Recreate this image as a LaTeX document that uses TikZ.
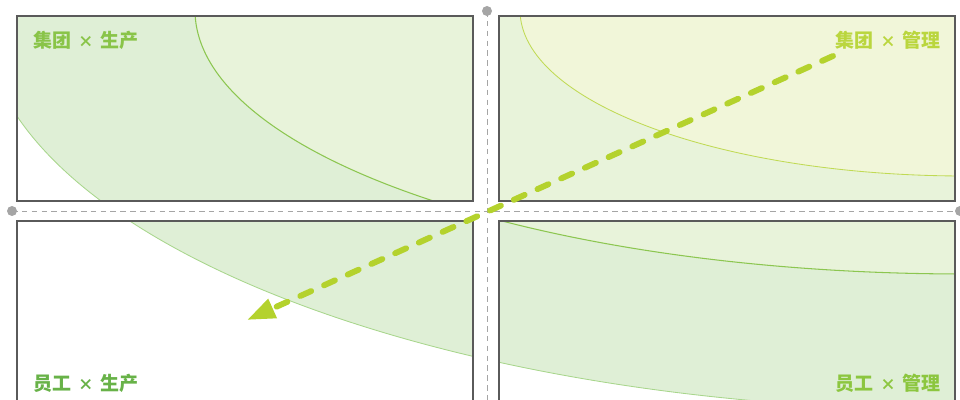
\documentclass[tikz,border=0pt]{standalone}
\usepackage{fontspec}
\newfontfamily\cjk{Noto Sans CJK SC}
\usetikzlibrary{arrows.meta}
\definecolor{frame}{RGB}{90,90,90}
\definecolor{axis}{RGB}{165,165,165}
\definecolor{band}{RGB}{223,239,214}
\definecolor{mid}{RGB}{232,243,218}
\definecolor{core}{RGB}{241,246,217}
\definecolor{bandline}{RGB}{168,214,140}
\definecolor{midline}{RGB}{140,198,80}
\definecolor{coreline}{RGB}{192,218,84}
\definecolor{lime}{RGB}{180,210,45}
\definecolor{leafgreen}{RGB}{137,196,72}
\definecolor{paleleaf}{RGB}{186,214,62}
\definecolor{grassgreen}{RGB}{104,178,72}
\definecolor{moss}{RGB}{140,198,63}

\newcommand\cross{\hspace{0.36em}{\fontsize{11}{12}\selectfont ×}\hspace{0.36em}}

\begin{document}
\begin{tikzpicture}[
  x=0.025cm, y=-0.025cm,
  quad/.style={draw=frame, line width=1.4pt},
  axisline/.style={draw=axis, line width=0.6pt, dash pattern=on 4pt off 3pt},
  axisdot/.style={fill=axis},
  ring/.style={line width=0.6pt},
  tag/.style={font=\cjk\bfseries\fontsize{13.5}{15}\selectfont, inner sep=0pt},
  trend/.style={draw=lime, line width=4.2pt, line cap=round,
                dash pattern=on 8.5pt off 10pt,
                -{Triangle[length=20pt,width=14pt]}}
]

\clip (0,0) rectangle (960,400);

% Concentric bands, only inside the four quadrants.
\begin{scope}
  \clip (17,16) rectangle (473,201) (499,16) rectangle (955,201)
        (17,221) rectangle (473,420) (499,221) rectangle (955,420);
  \fill[band] (965,10) ellipse [x radius=983, y radius=400];
  \fill[mid] (965,10) ellipse [x radius=770, y radius=264];
  \fill[core] (965,10) ellipse [x radius=445, y radius=166];
  \draw[ring, bandline] (965,10) ellipse [x radius=983, y radius=400];
  \draw[ring, midline, line width=0.75pt] (965,10) ellipse [x radius=770, y radius=264];
  \draw[ring, coreline] (965,10) ellipse [x radius=445, y radius=166];
\end{scope}

% Quadrant frames.
\draw[quad] (17,16) rectangle (473,201);
\draw[quad] (499,16) rectangle (955,201);
\draw[quad] (17,221) rectangle (473,420);
\draw[quad] (499,221) rectangle (955,420);

% Axes with end dots.
\draw[axisline] (12,211) -- (960,211);
\draw[axisline] (487,11) -- (487,400);
\fill[axisdot] (12,211) circle [radius=5];
\fill[axisdot] (960,211) circle [radius=5];
\fill[axisdot] (487,11) circle [radius=5];

% Quadrant labels.
\node[tag, anchor=west, text=leafgreen] (groupprod) at (33,40) {集团\cross 生产};
\node[tag, anchor=east, text=paleleaf] (groupmgmt) at (941,40) {集团\cross 管理};
\node[tag, anchor=west, text=grassgreen] (staffprod) at (33,383) {员工\cross 生产};
\node[tag, anchor=east, text=moss] (staffmgmt) at (941,383) {员工\cross 管理};

% Direction of the shift.
\coordinate (shiftfrom) at (833,56);
\coordinate (shiftto) at (247,320);
\draw[trend] (shiftfrom) -- (shiftto);

\end{tikzpicture}
\end{document}
